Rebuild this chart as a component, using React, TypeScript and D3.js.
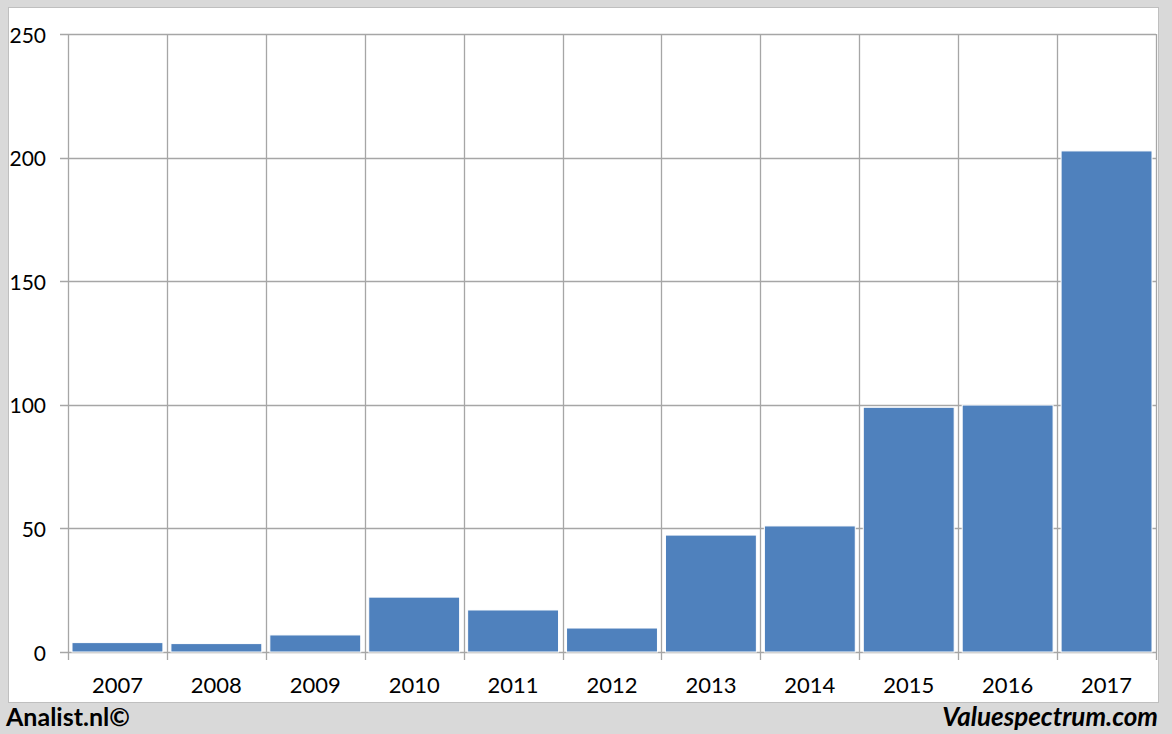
import React, { useRef, useEffect } from 'react';
import * as d3 from 'd3';

const years = ['2007', '2008', '2009', '2010', '2011', '2012', '2013', '2014', '2015', '2016', '2017'];
const values = [3.8, 3.4, 6.9, 22.2, 17, 9.7, 47.3, 51, 99, 99.9, 202.7];
const yTicks = [0, 50, 100, 150, 200, 250];

const W = 1172;
const H = 734;
const FONT = 'Lato, "Open Sans", sans-serif';

const App: React.FC = () => {
  const svgRef = useRef<SVGSVGElement>(null);

  useEffect(() => {
    if (!svgRef.current) return;
    const svg = d3.select(svgRef.current);
    svg.selectAll('*').remove();

    const left = 68, right = 1156, top = 34, bottom = 652;

    // background and panel
    svg.append('rect').attr('width', W).attr('height', H).attr('fill', '#d9d9d9');
    svg.append('rect')
      .attr('x', 8.5).attr('y', 7.5).attr('width', 1150).attr('height', 695)
      .attr('fill', '#ffffff').attr('stroke', '#bfbfbf').attr('stroke-width', 1);

    const x = d3.scaleBand().domain(years).range([left, right]).paddingInner(0).paddingOuter(0);
    const y = d3.scaleLinear().domain([0, 250]).range([bottom, top]);

    const grid = svg.append('g');
    // horizontal gridlines with tick stubs
    yTicks.forEach(t => {
      grid.append('line')
        .attr('x1', left - 8).attr('x2', right)
        .attr('y1', Math.round(y(t)) + 0.5).attr('y2', Math.round(y(t)) + 0.5)
        .attr('stroke', '#a6a6a6').attr('stroke-width', 1.3);
    });
    // vertical gridlines at category boundaries
    const bounds = years.map(d => x(d) as number).concat([right]);
    bounds.forEach(b => {
      grid.append('line')
        .attr('x1', Math.round(b) + 0.5).attr('x2', Math.round(b) + 0.5)
        .attr('y1', top).attr('y2', bottom + 8)
        .attr('stroke', '#a6a6a6').attr('stroke-width', 1.3);
    });

    // bars
    const pad = 4;
    svg.append('g').selectAll('rect')
      .data(values)
      .join('rect')
      .attr('x', (_, i) => (x(years[i]) as number) + pad)
      .attr('width', x.bandwidth() - pad * 2)
      .attr('y', d => y(d))
      .attr('height', d => bottom - y(d))
      .attr('fill', '#4f81bd')
      .attr('stroke', '#ffffff')
      .attr('stroke-width', 1);

    // y labels
    svg.append('g').selectAll('text')
      .data(yTicks)
      .join('text')
      .attr('x', 46)
      .attr('y', d => y(d))
      .attr('text-anchor', 'end')
      .attr('dominant-baseline', 'central')
      .attr('font-family', FONT)
      .attr('font-size', 21)
      .attr('fill', '#000')
      .text(d => String(d));

    // x labels
    svg.append('g').selectAll('text')
      .data(years)
      .join('text')
      .attr('x', d => (x(d) as number) + x.bandwidth() / 2)
      .attr('y', 693)
      .attr('text-anchor', 'middle')
      .attr('font-family', FONT)
      .attr('font-size', 22)
      .attr('fill', '#000')
      .text(d => d);

    // footer
    svg.append('text')
      .attr('x', 6).attr('y', 726)
      .attr('font-family', FONT).attr('font-weight', 'bold').attr('font-size', 25)
      .attr('fill', '#000')
      .text('Analist.nl©');
    svg.append('text')
      .attr('x', 1158).attr('y', 726)
      .attr('text-anchor', 'end')
      .attr('font-family', FONT).attr('font-weight', 'bold').attr('font-style', 'italic').attr('font-size', 26)
      .attr('fill', '#000')
      .text('Valuespectrum.com');
  }, []);

  return <svg ref={svgRef} width={W} height={H} style={{ position: 'absolute', left: 0, top: 0, display: 'block' }} />;
};

export default App;
